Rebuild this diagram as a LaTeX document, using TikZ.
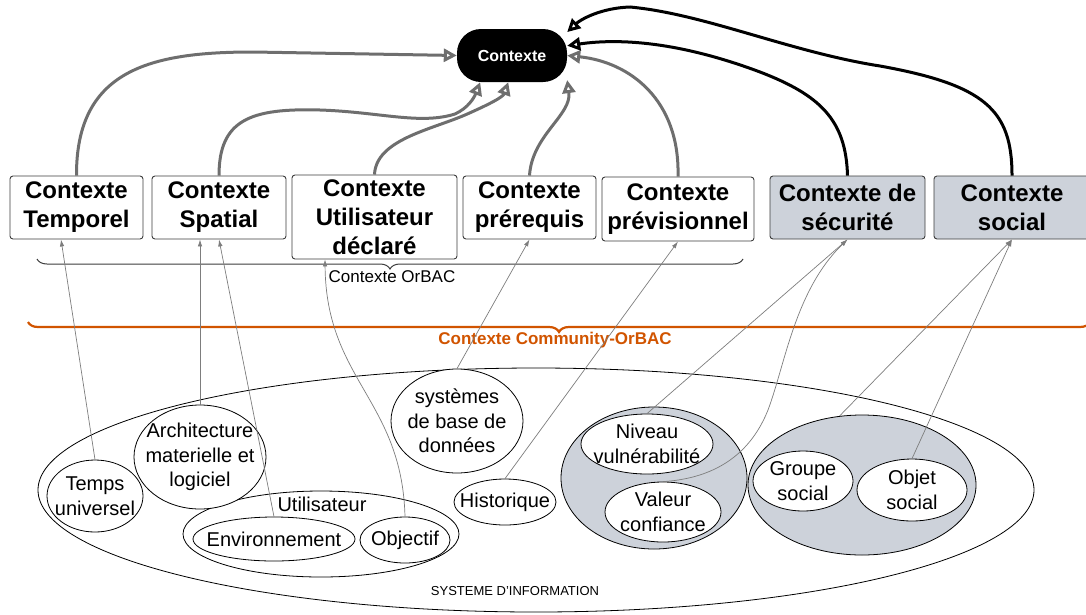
\documentclass[tikz,border=0pt]{standalone}
\usepackage{fontspec}
\setsansfont{Liberation Sans}
\usetikzlibrary{arrows.meta,shapes.geometric,decorations.pathreplacing}
\definecolor{fleche}{RGB}{110,110,110}
\definecolor{trait}{RGB}{125,125,125}
\definecolor{bord}{RGB}{60,60,60}
\definecolor{grisbleu}{RGB}{205,210,218}
\definecolor{orbac}{RGB}{209,84,0}
\tikzset{
  ctxbox/.style={draw=bord, rounded corners=3pt, line width=0.9pt, align=center, inner sep=0pt,
    font=\sffamily\bfseries\fontsize{24}{29}\selectfont},
  bulle/.style={ellipse, draw, line width=0.8pt, fill=white, inner sep=0pt},
  groupe/.style={bulle, fill=grisbleu},
  texte/.style={align=center, font=\sffamily\fontsize{20}{24.5}\selectfont},
  lien/.style={line width=3pt, draw=fleche, -{Triangle[open,length=13pt,width=13pt]}},
  liennoir/.style={lien, draw=black},
  fil/.style={draw=trait, line width=0.7pt, -{Latex[length=7pt,width=4.5pt]}}
}
\begin{document}
\begin{tikzpicture}[x=1pt, y=-1pt, font=\sffamily]
  \useasboundingbox (0,0) rectangle (1086,614);
  % systeme d'information
  \node[bulle, minimum width=996pt, minimum height=244pt] (si) at (536,490) {};
  \node[font=\sffamily\fontsize{13}{15}\selectfont] (silab) at (515,591) {SYSTEME D'INFORMATION};
  \node[bulle, minimum width=276pt, minimum height=86pt] (util) at (321,534) {};
  \node[texte] (utilab) at (322,504) {Utilisateur};
  \node[groupe, minimum width=186pt, minimum height=142pt] (secu) at (654,478) {};
  \node[groupe, minimum width=228pt, minimum height=140pt] (socg) at (862,485) {};
  \foreach \nom/\px/\py/\w/\h/\txt in {
      temps/95/496/96/72/{Temps\\universel},
      arch/200/457/132/104/{Architecture\\materielle et\\logiciel},
      env/274/539/162/44/{Environnement},
      obj/405/540/90/46/{Objectif},
      sbd/457/421/132/104/{systèmes\\de base de\\données},
      hist/505/502/102/46/{Historique},
      niv/647/444/132/60/{Niveau\\vulnérabilité},
      val/663/512/116/60/{Valeur\\confiance},
      grp/803/481/100/60/{Groupe\\social},
      objs/912/490/110/62/{Objet\\social}} {
    \node[bulle, minimum width=\w pt, minimum height=\h pt] (\nom) at (\px,\py) {};
    \node[texte] at (\nom) {\txt};
  }
  % accolades
  \draw[decorate, decoration={brace, mirror, amplitude=10pt}, line width=1pt, draw=bord] (37,259) -- (743,259);
  \node[font=\sffamily\fontsize{17}{20}\selectfont] (orbac) at (392,277) {Contexte OrBAC};
  \draw[decorate, decoration={brace, mirror, amplitude=10pt}, line width=2.2pt, draw=orbac] (28,322) -- (1090,322);
  \node[text=orbac, font=\sffamily\bfseries\fontsize{17}{20}\selectfont] (community) at (555,340) {Contexte Community-OrBAC};
  % contextes
  \node[ctxbox, minimum width=133pt, minimum height=63pt] (tempo) at (76.5,207.5) {Contexte\\Temporel};
  \node[ctxbox, minimum width=134pt, minimum height=63pt] (spa) at (219,207.5) {Contexte\\Spatial};
  \node[ctxbox, minimum width=165pt, minimum height=84pt] (usr) at (374.5,217) {Contexte\\Utilisateur\\déclaré};
  \node[ctxbox, minimum width=133pt, minimum height=63pt] (pre) at (529.5,207.5) {Contexte\\prérequis};
  \node[ctxbox, minimum width=152pt, minimum height=64pt] (prev) at (678,209) {Contexte\\prévisionnel};
  \node[ctxbox, fill=grisbleu, minimum width=155pt, minimum height=63pt] (sec) at (847.5,207.5) {Contexte de\\sécurité};
  \node[ctxbox, fill=grisbleu, minimum width=156pt, minimum height=63pt] (soc) at (1012,207.5) {Contexte\\social};
  \node[fill=black, rounded corners=24pt, minimum width=110pt, minimum height=53pt, inner sep=0pt,
    text=white, font=\sffamily\bfseries\fontsize{16}{19}\selectfont] (ctx) at (512,55.5) {Contexte};
  % liens vers le contexte
  \draw[lien] (tempo.north) .. controls (76,70) and (150,52) .. (253,52) -- (ctx.west);
  \draw[lien] (spa.north) .. controls (219,120) and (250,108) .. (320,110)
    .. controls (380,112) and (420,125) .. (455,114) .. controls (468,108) and (474,98) .. (ctx.-140);
  \draw[lien] (usr.north) .. controls (376,140) and (430,130) .. (465,115)
    .. controls (490,104) and (503,97) .. (ctx.-98);
  \draw[lien] (pre.north) .. controls (532,135) and (572,115) .. (ctx.-24);
  \draw[lien] (prev.north) .. controls (680,100) and (630,62) .. (ctx.east);
  \draw[liennoir] (sec.north) .. controls (846,120) and (820,95) .. (760,72)
    .. controls (680,42) and (620,38) .. (ctx.10);
  \draw[liennoir] (soc.north) .. controls (1012,110) and (985,85) .. (880,66)
    .. controls (790,52) and (705,14) .. (630,7) .. controls (600,8) and (580,20) .. (ctx.23);
  % elements du SI
  \draw[fil] (temps.north) -- ([xshift=-15.5pt]tempo.south);
  \draw[fil] (arch.north) -- ([xshift=-19pt]spa.south);
  \draw[fil] (env.north) -- (spa.south);
  \draw[fil] (obj.north) .. controls (402,400) and (326,380) .. ([xshift=-49.5pt]usr.south);
  \draw[fil] (sbd.north) -- (pre.south);
  \draw[fil] (hist.north) -- (prev.south);
  \draw[fil] (niv.north) -- (sec.south);
  \draw[fil] (val.north) .. controls (720,478) and (752,450) .. (768,410)
    .. controls (785,365) and (795,290) .. (sec.south);
  \draw[fil] (socg.108) -- (soc.south);
  \draw[fil] (objs.north) -- (soc.south);
\end{tikzpicture}
\end{document}
